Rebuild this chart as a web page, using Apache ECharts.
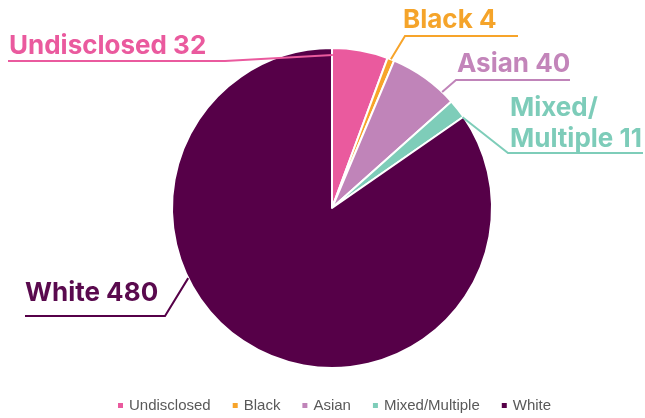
<!DOCTYPE html>
<html>
<head>
<meta charset="utf-8">
<script src="https://cdn.jsdelivr.net/npm/echarts@6/dist/echarts.min.js"></script>
<style>
html,body{margin:0;padding:0;background:#fff;}
#chart{width:645px;height:418px;}
</style>
</head>
<body>
<div id="chart"></div>
<script>
// Data
const categories = ['Undisclosed', 'Black', 'Asian', 'Mixed/Multiple', 'White'];
const values = [32, 4, 40, 11, 480];
const labelNames = ['Undisclosed', 'Black', 'Asian', 'Mixed/\nMultiple', 'White'];

// Styles
const colors = ['#EA5A9E', '#F7A42A', '#C084B9', '#7ECDB9', '#560048'];
const labelColors = ['#EA5A9E', '#F5A42A', '#C385BA', '#7DCCB9', '#5A0A4E'];

// Layout (label placement, pixels), indexed like categories
const CX = 332, CY = 208, R = 160;
const labelSpec = [
  { x: 9,   y: 46,    anchorAngle: 0.3,  anchorR: 153, elbow: [225, 61],  end: 8 },
  { x: 403, y: 20,    anchorAngle: 21.6, anchorR: 160, elbow: [405, 36],  end: 518 },
  { x: 457, y: 64,    anchorAngle: 43.5, anchorR: 160, elbow: [456, 80],  end: 570 },
  { x: 510, y: 124,   anchorAngle: 55.2, anchorR: 159, elbow: [508, 153], end: 643 },
  { x: 25,  y: 293,   anchorAngle: 244,  anchorR: 160, elbow: [165, 316], end: 25 }
];

function edgePoint(angleDeg, r) {
  const a = angleDeg * Math.PI / 180;
  return [CX + r * Math.sin(a), CY - r * Math.cos(a)];
}

const chart = echarts.init(document.getElementById('chart'), null, { renderer: 'canvas' });

const sliceData = categories.map((c, i) => ({
  name: c,
  value: values[i],
  itemStyle: { color: colors[i] }
}));

// Overlay copy: invisible sectors that carry labels and guide lines above all slices
const labelData = categories.map((c, i) => ({
  name: c,
  value: values[i],
  itemStyle: { color: 'rgba(0,0,0,0)', borderWidth: 0 },
  label: {
    color: labelColors[i],
    formatter: labelNames[i] + ' ' + values[i]
  },
  labelLine: { lineStyle: { color: colors[i] } }
}));

chart.setOption({
  animation: false,
  legend: {
    bottom: 0,
    left: 111,
    icon: 'rect',
    itemWidth: 7,
    itemHeight: 7,
    itemGap: 20,
    textStyle: { color: '#595959', fontSize: 15, fontFamily: 'Liberation Sans, Arial, sans-serif' },
    data: categories.map((c, i) => ({ name: c, itemStyle: { color: colors[i] } }))
  },
  series: [{
    type: 'pie',
    z: 2,
    center: [CX, CY],
    radius: R,
    startAngle: 90,
    clockwise: true,
    label: { show: false },
    labelLine: { show: false },
    itemStyle: { borderColor: '#ffffff', borderWidth: 2 },
    emphasis: { disabled: true },
    data: sliceData
  }, {
    type: 'pie',
    z: 5,
    silent: true,
    center: [CX, CY],
    radius: R,
    startAngle: 90,
    clockwise: true,
    avoidLabelOverlap: false,
    label: {
      show: true,
      position: 'outside',
      fontFamily: 'Inter, sans-serif',
      fontWeight: 'bold',
      fontSize: 26,
      lineHeight: 31
    },
    labelLine: { show: true, length: 10, length2: 10, lineStyle: { width: 2 } },
    labelLayout: function (params) {
      const s = labelSpec[params.dataIndex];
      const p0 = edgePoint(s.anchorAngle, s.anchorR);
      return {
        x: s.x,
        y: s.y,
        align: 'left',
        verticalAlign: 'middle',
        labelLinePoints: [p0, s.elbow, [s.end, s.elbow[1]]]
      };
    },
    emphasis: { disabled: true },
    data: labelData
  }]
});
</script>
</body>
</html>
